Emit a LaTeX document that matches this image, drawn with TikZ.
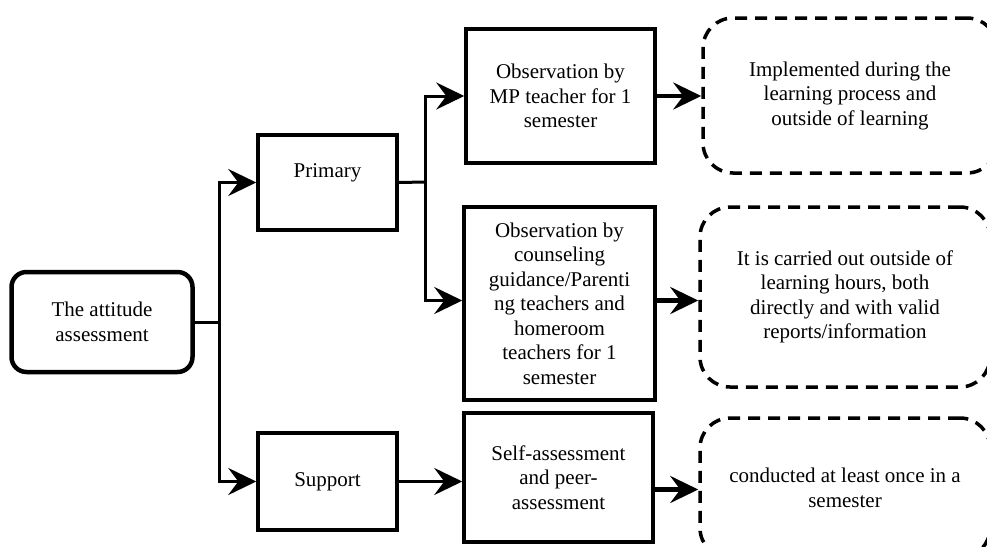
\documentclass[tikz,border=0pt]{standalone}
\usepackage{fontspec}
\setmainfont{Liberation Serif}
\usetikzlibrary{arrows.meta,positioning}

\tikzset{
  box/.style={draw, line width=3.5pt, align=center, inner sep=2pt},
  rootbox/.style={box, line width=4.5pt, rounded corners=15pt},
  notebox/.style={draw, line width=3.5pt, dash pattern=on 12pt off 8pt,
    rounded corners=30pt, align=center},
  conn/.style={line width=3pt},
  arr/.style={line width=3pt, -{Stealth[length=28pt,width=27pt,inset=10pt]}},
  thickarr/.style={arr, line width=4.2pt}
}

\begin{document}
\begin{tikzpicture}[x=1pt, y=-1pt, font=\rmfamily\fontsize{21}{24.5}\selectfont]

\clip (0,0) rectangle (987,546);

% Wurzel
\node[rootbox, minimum width=181pt, minimum height=100pt] (root) at (102,322)
      {The attitude\\assessment};

% Zweige
\node[box, minimum width=139pt, minimum height=95pt, text depth=24pt] (primary) at (327.5,182.5) {Primary};
\node[box, minimum width=139pt, minimum height=97pt] (support) at (327.5,481.5) {Support};

% Beobachtungen
\node[box, minimum width=189pt, minimum height=134pt] (obs1) at (560.5,96)
      {Observation by\\MP teacher for 1\\semester};
\node[box, minimum width=191pt, minimum height=193pt] (obs2) at (559.5,303.5)
      {Observation by\\counseling\\guidance/Parenti\\ng teachers and\\homeroom\\teachers for 1\\semester};
\node[box, minimum width=189pt, minimum height=129pt] (self) at (558.5,477.5)
      {Self-assessment\\and peer-\\assessment};

% Hinweise
\node[notebox, minimum width=294pt, minimum height=155pt] (note1) at (850,95.5)
      {Implemented during the\\learning process and\\outside of learning};
\node[notebox, minimum width=290pt, minimum height=180pt] (note2) at (845,297)
      {It is carried out outside of\\learning hours, both\\directly and with valid\\reports/information};
\node[notebox, minimum width=290pt, minimum height=140pt] (note3) at (845,488)
      {conducted at least once in a\\semester};

% Verbindungen
\coordinate (fork1) at (219,322);
\coordinate (fork2) at (425,182);
\coordinate (selfout) at ([yshift=-12pt]self.east);

\draw[conn] (root.east) -- (fork1);
\draw[arr] (fork1) |- (primary.west);
\draw[arr] (fork1) |- (support.west);

\draw[conn] (primary.east) -- (fork2);
\draw[arr] (fork2) |- (obs1.west);
\draw[arr] (fork2) |- ([yshift=3pt]obs2.west);

\draw[arr] (support.east) -- (support.east -| self.west);

\draw[thickarr] (obs1.east) -- (obs1.east -| note1.west);
\draw[thickarr] ([yshift=3pt]obs2.east) -- ([yshift=3pt]obs2.east -| note2.west);
\draw[thickarr] (selfout) -- (selfout -| note3.west);

\end{tikzpicture}
\end{document}
